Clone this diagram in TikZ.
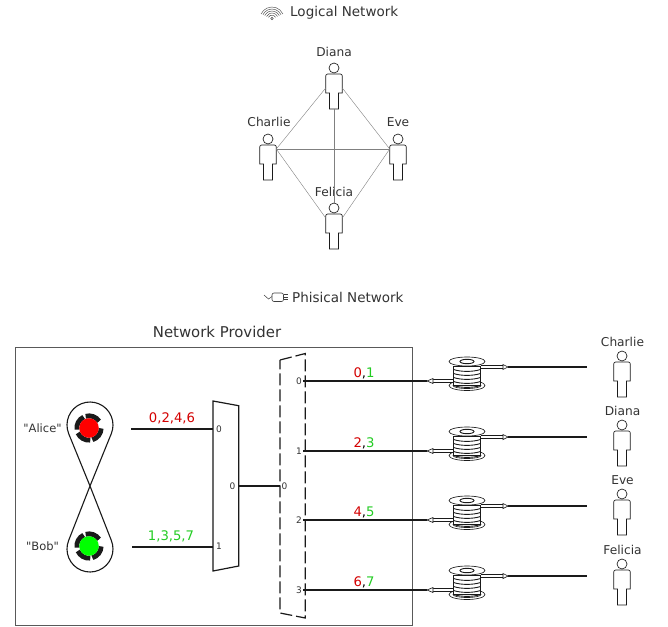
\documentclass[tikz,border=0pt]{standalone}
\usepackage{fontspec}
\setmainfont{DejaVu Sans}
\newfontfamily\plainq{DejaVu Sans}
\definecolor{ink}{HTML}{1A1A1A}
\definecolor{txt}{HTML}{333333}
\definecolor{redt}{HTML}{D40000}
\definecolor{grnt}{HTML}{22CC22}
\tikzset{
  lab/.style={font=\fontsize{13.5}{15}\selectfont,text=txt,inner sep=0pt},
  whoname/.style={font=\fontsize{12.2}{14}\selectfont,text=txt,inner sep=0pt},
  port/.style={font=\fontsize{9}{11}\selectfont,text=txt,inner sep=0pt},
  bits/.style={font=\fontsize{13.2}{15}\selectfont,inner sep=0pt},
  wire/.style={draw=ink,line width=1.4pt},
  logic/.style={draw=black!50,line width=0.4pt},
  outl/.style={draw=ink,line width=0.65pt},
  person/.pic={
    \draw[outl,fill=white] (0,0) circle[radius=5pt];
    \draw[outl,fill=white] (-4.5,41) -- (-4.5,25) -- (-8.3,25) [rounded corners=2pt] -- (-8.3,6) -- (8.3,6) [sharp corners] -- (8.3,25) -- (4.5,25) -- (4.5,41) -- cycle;
    \coordinate (-L) at (-8.3,20);
    \coordinate (-R) at (8.3,20);
    \coordinate (-UL) at (-8.3,10);
    \coordinate (-UR) at (8.3,10);
    \coordinate (-T) at (0,-5);
    \coordinate (-B) at (0,41);
  },
  spool/.pic={
    \draw[outl,fill=white] (0,0) ellipse[x radius=18pt,y radius=5pt];
    \draw[outl] (0,0) ellipse[x radius=14pt,y radius=3pt];
    \draw[outl,fill=white] (-13.5,-19) rectangle (13.5,0);
    \foreach \yy in {-16,-12,-8,-4,0}{
      \draw[outl,line width=0.9pt] (-13.5,\yy) .. controls (-6,\yy+2.5) and (6,\yy+2.5) .. (13.5,\yy);
    }
    \draw[outl,fill=white] (0,-24) ellipse[x radius=18pt,y radius=4.5pt];
    \draw[outl,line width=0.9pt] (0,-24) ellipse[x radius=7pt,y radius=2.2pt];
    \draw[outl] (13.5,-20) -- (36,-20);
    \draw[outl] (13.5,-17) -- (36,-17);
    \draw[outl,fill=white] (36,-21) -- (36,-16) -- (41,-18.5) -- cycle;
    \draw[outl] (-13.5,-3) -- (-34,-3);
    \draw[outl] (-13.5,-6) -- (-34,-6);
    \draw[outl,fill=white] (-34,-7) -- (-34,-2) -- (-40,-4.5) -- cycle;
    \coordinate (-in) at (-40,-4.5);
    \coordinate (-out) at (41,-18.5);
  }
}
\begin{document}
\begin{tikzpicture}[x=1pt,y=-1pt]
\useasboundingbox (0,0) rectangle (668,626);
\fill[white] (0,0) rectangle (668,626);

% wifi icon
\foreach \r in {4,6,8,10,12}{
  \draw[black!70,line width=0.45pt] (272,19)++(25:\r pt) arc[start angle=25,end angle=155,radius=\r pt];
}
\draw[black!70,line width=0.5pt] (272,18.5) circle[radius=1.3pt];
\node[lab,anchor=west] (logical) at (290,13) {Logical Network};

% logical network
\path (334,68) pic (ld) {person};
\path (268,139) pic (lc) {person};
\path (398,139) pic (le) {person};
\path (334,208) pic (lf) {person};
\node[whoname] (tld) at (334,52) {Diana};
\node[whoname] (tlc) at (269,122) {Charlie};
\node[whoname] (tle) at (398,122) {Eve};
\node[whoname] (tlf) at (334,192) {Felicia};
\draw[logic] (ld-B) -- (lf-T);
\draw[logic] (ld-L) -- (lc-UR);
\draw[logic] (ld-R) -- (le-UL);
\draw[logic] (lc-UR) -- (le-UL);
\draw[logic] (lc-UR) -- (lf-UL);
\draw[logic] (le-UL) -- (lf-UR);

% plug icon
\draw[black!75,line width=0.5pt] (264,295) -- (268.5,299) -- (272,296.5);
\draw[black!75,line width=0.6pt,rounded corners=2pt] (272,293) rectangle (283.5,301.5);
\foreach \yy in {294.5,297,299.5}{\draw[black!75,line width=0.6pt] (284,\yy) -- (288,\yy);}
\node[lab,anchor=west] (physical) at (292,297.5) {Phisical Network};

% provider
\node[lab,font=\fontsize{14.9}{17}\selectfont] (prov) at (217,332) {Network Provider};
\draw[black!65,line width=0.8pt] (15.5,347.5) rectangle (412,625.5);

% Alice and Bob loop
\coordinate (cross) at (90,486);
\draw[ink,line width=1.1pt] (cross) -- (68.7,433.7) arc[start angle=202.2,end angle=-22.2,radius=23pt] -- (cross)
  -- (68.7,540.3) arc[start angle=157.8,end angle=382.2,radius=23pt] -- cycle;
\foreach \cy/\cc in {428/red,546/green}{
  \foreach \a in {30,112,200,282}{
    \draw[ink,line width=4.8pt] (89,\cy)++(\a+4:12.2pt) arc[start angle=\a+4,end angle=\a+76,radius=12.2pt];
  }
  \fill[\cc] (89,\cy) circle[radius=9.8pt];
}
\node[whoname,font=\fontsize{11.5}{14}\plainq] (alice) at (42.5,428) {"Alice"};
\node[whoname,font=\fontsize{11.5}{14}\plainq] (bob) at (42.5,546) {"Bob"};
\coordinate (asrc) at (131,429);
\coordinate (bsrc) at (132,547);

% mux
\draw[ink,line width=1.2pt,fill=white] (213,401) -- (238.7,405.7) -- (238.7,566) -- (213,571) -- cycle;
\coordinate (mux0) at (213,429);
\coordinate (mux1) at (213,547);
\coordinate (muxo) at (238.7,486);
\draw[wire] (asrc) -- (mux0);
\draw[wire] (bsrc) -- (mux1);
\node[port] (m0) at (219,429) {0};
\node[port] (m1) at (219,546.5) {1};
\node[port] (mo) at (232.5,486) {0};
\node[bits,text=redt] (abits) at (172,418) {0,2,4,6};
\node[bits,text=grnt] (bbits) at (171,536) {1,3,5,7};

% demux
\draw[ink,line width=1.2pt,dash pattern=on 12pt off 4pt] (280,360) -- (305.3,353.5) -- (305.3,618) -- (280,613) -- cycle;
\coordinate (demi) at (280,486);
\draw[wire] (muxo) -- (demi);
\node[port] (do) at (284.5,486) {0};

% spools and outputs
\foreach \i/\py/\nm/\ny/\hy/\ca/\cb in {
  0/381/Charlie/342/356/0/1,
  1/451/Diana/411/425/2/3,
  2/520/Eve/480/494/4/5,
  3/590/Felicia/550/564/6/7}{
  \coordinate (dem\i) at (303,\py);
  \path (467,\py+4.5) pic (sp\i) {spool};
  \draw[wire] (dem\i) -- (sp\i-in);
  \path (sp\i-out) -- ++(79,0) coordinate (end\i);
  \draw[wire] (sp\i-out) -- (end\i);
  \node[port] (dp\i) at (299,\py) {\i};
  \node[bits] (bit\i) at (364,\py-7.5) {\textcolor{redt}{\ca},\textcolor{grnt}{\cb}};
  \path (622,\hy) pic (pp\i) {person};
  \node[whoname] (nm\i) at (622.5,\ny) {\nm};
}
\end{tikzpicture}
\end{document}
